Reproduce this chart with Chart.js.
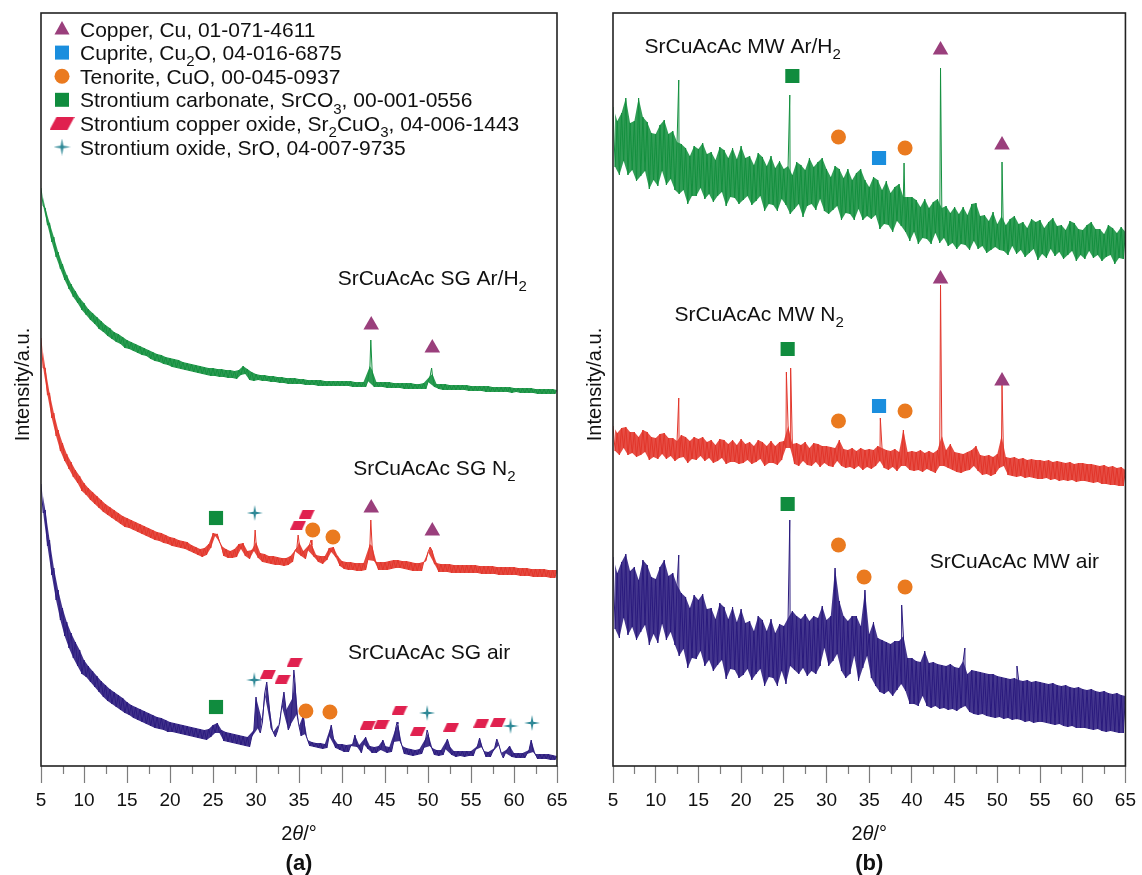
<!DOCTYPE html>
<html>
<head>
<meta charset="utf-8">
<title>XRD patterns of SrCuAcAc</title>
<script src="https://cdn.jsdelivr.net/npm/chart.js@4.4.1/dist/chart.umd.min.js"></script>
<style>
  body { margin: 0; background: #fff; }
  #wrap { position: relative; width: 1142px; height: 875px; }
  #wrap canvas { position: absolute; top: 0; }
</style>
</head>
<body>
<div id="wrap">
  <canvas id="panelA" width="575" height="875" style="left:0"></canvas>
  <canvas id="panelB" width="570" height="875" style="left:572px"></canvas>
</div>
<script>
const FONT = '"Liberation Sans", Arial, Helvetica, sans-serif';

// scan grid, 2theta in degrees
const STEP = 0.25;
const twoTheta = Array.from({ length: 241 }, (_, i) => 5 + i * STEP);

// intensities (a.u.) at each grid point, one row per 5 degrees
const sgArH2 = [
  578, 560, 558, 541, 543, 524, 529, 509, 514, 497, 502, 486, 491, 477, 482, 469, 475, 463, 468, 456,
  463, 451, 457, 446, 453, 442, 449, 437, 445, 434, 441, 430, 438, 427, 434, 424, 432, 422, 429, 418,
  426, 417, 424, 415, 422, 413, 420, 411, 418, 410, 416, 407, 414, 405, 412, 404, 411, 402, 409, 401,
  408, 399, 407, 398, 406, 397, 404, 396, 403, 395, 402, 394, 401, 393, 400, 392, 399, 391, 398, 390,
  398, 390, 397, 389, 397, 389, 396, 388, 396, 388, 395, 387, 396, 391, 400, 392, 397, 386, 394, 385,
  392, 386, 391, 385, 391, 385, 390, 384, 390, 384, 389, 383, 389, 383, 388, 382, 388, 382, 388, 382,
  387, 382, 387, 381, 386, 381, 386, 381, 386, 380, 386, 380, 385, 380, 385, 380, 385, 380, 385, 380,
  385, 380, 385, 380, 385, 379, 384, 379, 384, 379, 384, 379, 385, 400, 396, 379, 384, 379, 384, 379,
  384, 378, 384, 378, 383, 378, 383, 378, 383, 377, 383, 377, 383, 377, 382, 377, 382, 377, 383, 377,
  384, 390, 392, 379, 382, 377, 382, 376, 382, 376, 381, 376, 381, 376, 381, 376, 381, 376, 381, 375,
  380, 375, 380, 375, 380, 375, 380, 374, 380, 374, 379, 374, 379, 374, 379, 374, 379, 374, 379, 373,
  378, 374, 378, 373, 378, 373, 378, 373, 378, 373, 377, 372, 377, 372, 377, 372, 377, 372, 377, 372, 376
];
const sgN2 = [
  428, 398, 398, 371, 373, 348, 353, 330, 336, 315, 323, 305, 312, 297, 304, 289, 296, 283, 290, 275,
  283, 271, 278, 266, 274, 262, 270, 258, 266, 254, 262, 251, 259, 248, 256, 245, 253, 242, 250, 239,
  248, 238, 246, 236, 244, 234, 242, 232, 240, 230, 238, 228, 236, 226, 234, 225, 233, 223, 231, 222,
  229, 220, 228, 219, 226, 218, 225, 217, 224, 215, 221, 213, 219, 211, 217, 209, 218, 211, 222, 218,
  233, 230, 232, 224, 220, 210, 217, 208, 215, 208, 217, 209, 222, 217, 223, 210, 215, 207, 216, 215,
  224, 208, 213, 204, 212, 203, 210, 202, 210, 201, 209, 201, 208, 200, 208, 201, 210, 204, 215, 218,
  224, 210, 215, 207, 216, 222, 221, 209, 211, 204, 210, 202, 210, 206, 218, 214, 219, 209, 210, 200,
  205, 197, 204, 196, 204, 196, 203, 195, 203, 195, 203, 196, 206, 222, 220, 205, 204, 196, 204, 196,
  204, 196, 205, 197, 206, 198, 206, 198, 205, 197, 205, 196, 204, 195, 203, 195, 203, 195, 204, 205,
  214, 219, 215, 202, 203, 194, 202, 194, 202, 194, 202, 193, 201, 193, 201, 193, 201, 193, 201, 193,
  201, 193, 201, 193, 200, 192, 200, 192, 200, 192, 200, 192, 199, 191, 199, 191, 199, 191, 199, 191,
  199, 191, 198, 190, 198, 190, 198, 190, 197, 189, 197, 189, 197, 189, 197, 189, 196, 188, 196, 188, 196
];
const sgAir = [
  282, 253, 256, 220, 226, 191, 198, 166, 176, 146, 158, 130, 144, 118, 133, 108, 124, 100, 116, 92,
  106, 89, 100, 84, 95, 79, 90, 74, 85, 69, 81, 65, 77, 62, 74, 59, 71, 56, 68, 53,
  64, 51, 61, 48, 59, 46, 57, 44, 55, 42, 53, 40, 51, 38, 49, 37, 48, 36, 46, 34,
  44, 34, 43, 33, 42, 32, 41, 31, 40, 30, 39, 29, 38, 28, 37, 27, 36, 26, 37, 29,
  41, 33, 43, 33, 36, 25, 34, 24, 33, 23, 32, 22, 31, 21, 30, 20, 29, 19, 29, 36,
  69, 38, 33, 44, 72, 84, 63, 38, 34, 29, 35, 43, 60, 74, 56, 36, 41, 68, 88, 52,
  40, 30, 51, 32, 26, 20, 24, 19, 23, 18, 23, 17, 22, 18, 30, 41, 28, 18, 22, 16,
  22, 14, 21, 14, 20, 22, 31, 19, 21, 13, 22, 29, 17, 20, 13, 19, 13, 20, 16, 26,
  20, 13, 19, 14, 24, 38, 42, 25, 20, 12, 18, 11, 17, 10, 16, 11, 17, 12, 18, 28,
  33, 20, 18, 11, 16, 10, 16, 11, 17, 27, 20, 11, 15, 9, 15, 10, 15, 9, 15, 10,
  15, 10, 16, 20, 28, 19, 15, 9, 14, 9, 14, 18, 27, 21, 13, 8, 13, 17, 20, 9,
  13, 8, 13, 8, 13, 8, 12, 16, 26, 14, 12, 7, 12, 7, 12, 7, 12, 6, 11, 6, 10
];
const mwArH2 = [
  659, 599, 645, 591, 653, 605, 668, 591, 643, 596, 645, 585, 668, 590, 649, 595, 644, 577, 633, 586,
  632, 580, 641, 595, 646, 581, 632, 587, 635, 576, 624, 572, 622, 576, 618, 562, 610, 570, 620, 570,
  617, 578, 623, 567, 612, 572, 614, 564, 606, 570, 619, 574, 616, 560, 608, 569, 618, 568, 607, 562,
  620, 566, 608, 570, 610, 561, 601, 565, 613, 570, 609, 555, 600, 562, 610, 561, 598, 555, 605, 567,
  597, 561, 600, 552, 591, 557, 604, 562, 601, 549, 596, 560, 608, 562, 599, 556, 604, 567, 608, 555,
  597, 552, 589, 556, 600, 560, 597, 546, 588, 553, 597, 552, 586, 546, 593, 557, 597, 546, 586, 550,
  579, 547, 589, 551, 586, 537, 576, 542, 585, 541, 573, 534, 579, 545, 582, 540, 569, 534, 569, 525,
  569, 534, 566, 522, 559, 528, 567, 527, 558, 522, 564, 533, 567, 523, 558, 528, 560, 520, 553, 523,
  559, 517, 552, 522, 559, 521, 551, 516, 562, 525, 563, 517, 550, 520, 551, 513, 545, 516, 554, 519,
  542, 516, 550, 515, 541, 511, 547, 520, 550, 512, 542, 516, 544, 509, 538, 513, 547, 517, 544, 506,
  546, 512, 538, 508, 544, 517, 548, 510, 540, 514, 541, 507, 536, 511, 545, 515, 543, 505, 537, 511,
  536, 507, 541, 515, 544, 508, 537, 511, 537, 505, 532, 509, 541, 511, 538, 502, 533, 508, 539, 507, 534
];
const mwN2 = [
  340, 315, 333, 311, 338, 318, 339, 311, 334, 313, 334, 309, 329, 311, 336, 314, 334, 306, 329, 309,
  328, 307, 332, 312, 333, 307, 328, 310, 328, 305, 325, 308, 331, 309, 329, 303, 325, 307, 329, 306,
  327, 310, 329, 305, 324, 308, 326, 303, 321, 305, 327, 308, 326, 302, 322, 304, 326, 304, 321, 302,
  327, 303, 322, 306, 324, 302, 320, 304, 326, 307, 324, 300, 320, 303, 325, 303, 320, 301, 324, 306,
  325, 318, 340, 318, 322, 302, 323, 300, 321, 305, 324, 301, 318, 300, 323, 304, 322, 299, 320, 303,
  320, 300, 319, 299, 318, 305, 326, 300, 317, 298, 316, 299, 318, 297, 315, 300, 318, 296, 316, 299,
  317, 297, 316, 300, 320, 305, 318, 298, 316, 296, 315, 299, 317, 295, 314, 300, 336, 300, 314, 296,
  315, 295, 314, 296, 316, 294, 313, 297, 315, 295, 313, 293, 316, 300, 330, 300, 316, 298, 322, 296,
  314, 294, 313, 293, 312, 295, 314, 296, 316, 300, 320, 295, 311, 291, 310, 292, 311, 290, 309, 292,
  312, 298, 330, 300, 309, 291, 308, 290, 309, 289, 307, 290, 308, 288, 306, 289, 307, 288, 306, 287,
  306, 287, 305, 288, 306, 286, 304, 287, 305, 285, 304, 286, 303, 285, 304, 286, 302, 284, 303, 285,
  303, 285, 302, 284, 302, 283, 301, 284, 300, 282, 301, 282, 299, 281, 300, 281, 298, 280, 299, 280, 296
];
const mwAir = [
  209, 137, 193, 128, 204, 148, 212, 131, 195, 139, 199, 126, 186, 134, 206, 141, 201, 121, 189, 132,
  187, 123, 199, 142, 206, 126, 190, 134, 193, 121, 181, 110, 173, 117, 169, 98, 158, 108, 171, 107,
  166, 115, 172, 100, 157, 106, 158, 95, 147, 101, 163, 106, 159, 87, 147, 97, 159, 96, 144, 88,
  157, 91, 143, 97, 145, 86, 135, 92, 150, 97, 146, 80, 135, 89, 147, 88, 133, 80, 142, 95,
  140, 82, 148, 100, 155, 96, 150, 92, 147, 98, 152, 90, 145, 95, 150, 92, 148, 100, 160, 118,
  146, 100, 150, 105, 198, 112, 165, 95, 150, 88, 145, 92, 150, 110, 150, 85, 140, 98, 176, 110,
  132, 88, 144, 80, 128, 74, 126, 72, 124, 75, 122, 70, 125, 76, 125, 82, 130, 75, 108, 62,
  108, 62, 105, 60, 104, 70, 115, 60, 103, 58, 104, 60, 102, 57, 101, 58, 100, 56, 102, 57,
  99, 55, 98, 58, 105, 60, 92, 54, 96, 52, 95, 51, 94, 52, 93, 50, 92, 49, 92, 48,
  90, 49, 89, 47, 88, 48, 87, 46, 88, 47, 86, 46, 85, 44, 86, 45, 84, 43, 85, 44,
  84, 44, 83, 43, 82, 42, 83, 41, 81, 42, 80, 40, 81, 39, 79, 40, 78, 38, 79, 38,
  77, 38, 76, 37, 77, 36, 75, 37, 74, 35, 75, 34, 73, 35, 72, 34, 73, 33, 71, 33, 70
];

// sharp reflections between grid points: [2theta, intensity]
const sgArH2Peaks = [[43.35, 426], [50.42, 398]];
const sgN2Peaks = [[29.9, 236], [34.9, 231], [36.4, 226], [43.35, 246]];
const sgAirPeaks = [[34.4, 96], [46.4, 44], [49.9, 36]];
const mwArH2Peaks = [[12.7, 686], [25.7, 671], [39.08, 603], [43.35, 698], [50.55, 604]];
const mwN2Peaks = [[12.7, 368], [25.3, 394], [25.8, 398], [36.3, 348], [43.35, 481], [50.55, 381]];
const mwAirPeaks = [[12.7, 211], [25.7, 246], [38.8, 161], [46.2, 118], [52.3, 100]];

// phase markers: [2theta, height]
const copperA = [[43.4, 441], [50.5, 418], [43.4, 258], [50.5, 235]];
const tenoriteA = [[36.6, 236], [38.95, 229], [35.8, 55], [38.6, 54]];
const carbonateA = [[25.35, 248], [25.35, 59]];
const srCuOxideA = [[34.9, 241], [35.9, 252], [31.4, 92], [33.1, 87], [34.5, 104], [43.0, 41], [44.6, 42],
  [46.7, 56], [48.85, 35], [52.7, 39], [56.2, 43], [58.15, 44]];
const srOxideA = [[29.85, 253], [29.8, 86], [49.9, 53], [59.6, 40], [62.1, 43]];

const copperB = [[43.35, 716], [50.55, 621], [43.35, 487], [50.55, 385]];
const cupriteB = [[36.15, 608], [36.15, 360]];
const tenoriteB = [[31.4, 629], [39.2, 618], [31.4, 345], [39.2, 355], [31.4, 221], [34.4, 189], [39.2, 179]];
const carbonateB = [[26.0, 690], [25.45, 417], [25.45, 262]];

const seriesLabelsA = [['SrCuAcAc SG Ar/H_2', 39.5, 489], ['SrCuAcAc SG N_2', 41.3, 299], ['SrCuAcAc SG air', 40.7, 115]];
const seriesLabelsB = [['SrCuAcAc MW Ar/H_2', 8.7, 721], ['SrCuAcAc MW N_2', 12.2, 453], ['SrCuAcAc MW air', 42.1, 206]];

const GREEN = '#14903f', RED = '#e2362b', NAVY = '#2b1b7e';

// custom marker shapes
function shapeCanvas(w, h, color, draw) {
  const c = document.createElement('canvas');
  c.width = w; c.height = h;
  const g = c.getContext('2d');
  g.fillStyle = color;
  g.beginPath(); draw(g, w, h); g.closePath(); g.fill();
  return c;
}
const paraPath = skew => (g, w, h) => { g.moveTo(skew, 0); g.lineTo(w, 0); g.lineTo(w - skew, h); g.lineTo(0, h); };
const starPath = (g, w) => {
  const c = w / 2, r = c * 0.22;
  for (let k = 0; k < 8; k++) {
    const ang = k * Math.PI / 4 - Math.PI / 2, rad = k % 2 ? r : c;
    g.lineTo(c + Math.cos(ang) * rad, c + Math.sin(ang) * rad);
  }
};

const PHASES = {
  copper: { label: 'Copper, Cu, 01-071-4611', color: '#9a3f7c', style: 'triangle', radius: 9 },
  cuprite: { label: 'Cuprite, Cu_2O, 04-016-6875', color: '#1a8ede', style: 'rect', radius: 10 },
  tenorite: { label: 'Tenorite, CuO, 00-045-0937', color: '#ea7a1f', style: 'circle', radius: 7.5 },
  carbonate: { label: 'Strontium carbonate, SrCO_3, 00-001-0556', color: '#108c3e', style: 'rect', radius: 10 },
  srCuOxide: { label: 'Strontium copper oxide, Sr_2CuO_3, 04-006-1443', color: '#e0214f',
    style: shapeCanvas(16, 9, '#e0214f', paraPath(4)), legendStyle: shapeCanvas(25, 13, '#e0214f', paraPath(7)) },
  srOxide: { label: 'Strontium oxide, SrO, 04-007-9735', color: '#2e8896',
    style: shapeCanvas(16, 16, '#2e8896', starPath), legendStyle: shapeCanvas(17, 17, '#2e8896', starPath) }
};

function trace(values, peaks) {
  const pts = values.map((y, i) => ({ x: twoTheta[i], y }));
  peaks.forEach(([x, y]) => pts.push({ x, y }));
  return pts.sort((a, b) => a.x - b.x);
}

// noisy scan: solid body between the upper and lower point of each
// neighbouring pair, raw line drawn on top
function scanSets(values, peaks, color, alpha) {
  const hi = [], lo = [];
  for (let i = 0; i < values.length; i += 2) {
    const a = { x: twoTheta[i], y: values[i] };
    if (i + 1 >= values.length) { hi.push(a); lo.push(a); break; }
    const b = { x: twoTheta[i + 1], y: values[i + 1] };
    if (a.y >= b.y) { hi.push(a); lo.push(b); } else { hi.push(b); lo.push(a); }
  }
  const edge = { type: 'line', borderColor: 'rgba(0,0,0,0)', borderWidth: 1, pointRadius: 0, tension: 0, order: 3 };
  return [
    { ...edge, data: hi, fill: '+1', backgroundColor: color + alpha },
    { ...edge, data: lo, fill: false },
    {
      type: 'line', data: trace(values, peaks), borderColor: color, borderWidth: 1,
      borderJoinStyle: 'round', pointRadius: 0, tension: 0, fill: false, order: 2
    }
  ];
}

function markSet(points, key) {
  const p = PHASES[key];
  return {
    type: 'scatter', data: points.map(([x, y]) => ({ x, y })), pointStyle: p.style,
    pointRadius: p.radius || 8, backgroundColor: p.color, borderWidth: 0, order: 1
  };
}

// text with "_n" written as subscript n
function richText(ctx, text, x, y, size, align) {
  const parts = text.split(/_(\d)/);
  const fontFor = i => `${i % 2 ? Math.round(size * 0.7) : size}px ${FONT}`;
  let width = 0;
  parts.forEach((p, i) => { ctx.font = fontFor(i); width += ctx.measureText(p).width; });
  let cx = align === 'center' ? x - width / 2 : x;
  const base = y + size * 0.36;
  ctx.textAlign = 'left';
  ctx.textBaseline = 'alphabetic';
  parts.forEach((p, i) => {
    ctx.font = fontFor(i);
    ctx.fillText(p, cx, base + (i % 2 ? size * 0.3 : 0));
    cx += ctx.measureText(p).width;
  });
}

function legendSymbol(ctx, p, x, y) {
  ctx.fillStyle = p.color;
  if (p.legendStyle) {
    const s = p.legendStyle;
    ctx.drawImage(s, x - s.width / 2, y - s.height / 2);
    return;
  }
  ctx.beginPath();
  if (p.style === 'circle') ctx.arc(x, y, 7.5, 0, Math.PI * 2);
  else if (p.style === 'rect') ctx.rect(x - 7, y - 7, 14, 14);
  else { ctx.moveTo(x, y - 8); ctx.lineTo(x + 7.5, y + 5.5); ctx.lineTo(x - 7.5, y + 5.5); ctx.closePath(); }
  ctx.fill();
}

const panelDecor = {
  id: 'panelDecor',
  afterDraw(chart, args, opts) {
    const { ctx, chartArea: a, scales: { x, y } } = chart;
    ctx.save();

    // minor ticks between the labelled ones
    ctx.strokeStyle = '#7d7d7d';
    ctx.lineWidth = 1.2;
    for (let t = 7.5; t < 65; t += 5) {
      const px = Math.round(x.getPixelForValue(t)) + 0.5;
      ctx.beginPath(); ctx.moveTo(px, a.bottom); ctx.lineTo(px, a.bottom + 8); ctx.stroke();
    }

    ctx.strokeStyle = '#222';
    ctx.lineWidth = 1.6;
    ctx.strokeRect(a.left, a.top, a.right - a.left, a.bottom - a.top);

    ctx.fillStyle = '#111';
    opts.labels.forEach(([text, t, v]) => richText(ctx, text, x.getPixelForValue(t), y.getPixelForValue(v), 21, 'left'));

    if (opts.legend) {
      Object.values(PHASES).forEach((p, i) => {
        const cy = a.top + 16 + i * 23.6;
        legendSymbol(ctx, p, a.left + 21, cy);
        ctx.fillStyle = '#111';
        richText(ctx, p.label, a.left + 39, cy, 21, 'left');
      });
    }

    // y title
    ctx.save();
    ctx.translate(22, (a.top + a.bottom) / 2 - 5);
    ctx.rotate(-Math.PI / 2);
    ctx.fillStyle = '#111';
    richText(ctx, 'Intensity/a.u.', 0, 0, 20, 'center');
    ctx.restore();

    // x title: 2θ/° with italic theta
    const cx = (a.left + a.right) / 2, ty = a.bottom + 67 + 7;
    const segs = [['2', ''], ['θ', 'italic '], ['/°', '']];
    let w = 0;
    segs.forEach(([s, f]) => { ctx.font = `${f}20px ${FONT}`; w += ctx.measureText(s).width; });
    let sx = cx - w / 2;
    ctx.textAlign = 'left';
    ctx.textBaseline = 'alphabetic';
    segs.forEach(([s, f]) => { ctx.font = `${f}20px ${FONT}`; ctx.fillText(s, sx, ty); sx += ctx.measureText(s).width; });

    ctx.font = `bold 22px ${FONT}`;
    ctx.textAlign = 'center';
    ctx.fillText(opts.letter, cx, a.bottom + 96 + 8);
    ctx.restore();
  }
};

function panel(id, datasets, decor, rightPad) {
  return new Chart(document.getElementById(id), {
    type: 'line',
    data: { datasets },
    options: {
      responsive: false,
      animation: false,
      events: [],
      layout: { padding: { left: 41, right: rightPad, top: 13, bottom: 69 } },
      plugins: { legend: { display: false }, tooltip: { enabled: false }, panelDecor: decor },
      scales: {
        x: {
          type: 'linear', min: 5, max: 65,
          ticks: { stepSize: 5, autoSkip: false, maxRotation: 0, padding: 6, color: '#111', font: { family: FONT, size: 19 } },
          grid: { drawOnChartArea: false, drawTicks: true, tickLength: 17, tickColor: '#7d7d7d', tickWidth: 1.2 },
          border: { display: false },
          afterFit: s => { s.height = 40; }
        },
        y: { display: false, min: 0, max: 753 }
      }
    },
    plugins: [panelDecor]
  });
}

panel('panelA', [
  markSet(copperA, 'copper'),
  markSet(tenoriteA, 'tenorite'),
  markSet(carbonateA, 'carbonate'),
  markSet(srCuOxideA, 'srCuOxide'),
  markSet(srOxideA, 'srOxide'),
  ...scanSets(sgArH2, sgArH2Peaks, GREEN, 'e6'),
  ...scanSets(sgN2, sgN2Peaks, RED, 'e6'),
  ...scanSets(sgAir, sgAirPeaks, NAVY, 'e6')
], { labels: seriesLabelsA, legend: true, letter: '(a)' }, 18);

panel('panelB', [
  markSet(copperB, 'copper'),
  markSet(cupriteB, 'cuprite'),
  markSet(tenoriteB, 'tenorite'),
  markSet(carbonateB, 'carbonate'),
  ...scanSets(mwArH2, mwArH2Peaks, GREEN, 'e0'),
  ...scanSets(mwN2, mwN2Peaks, RED, 'e0'),
  ...scanSets(mwAir, mwAirPeaks, NAVY, 'e0')
], { labels: seriesLabelsB, legend: false, letter: '(b)' }, 13);
</script>
</body>
</html>
